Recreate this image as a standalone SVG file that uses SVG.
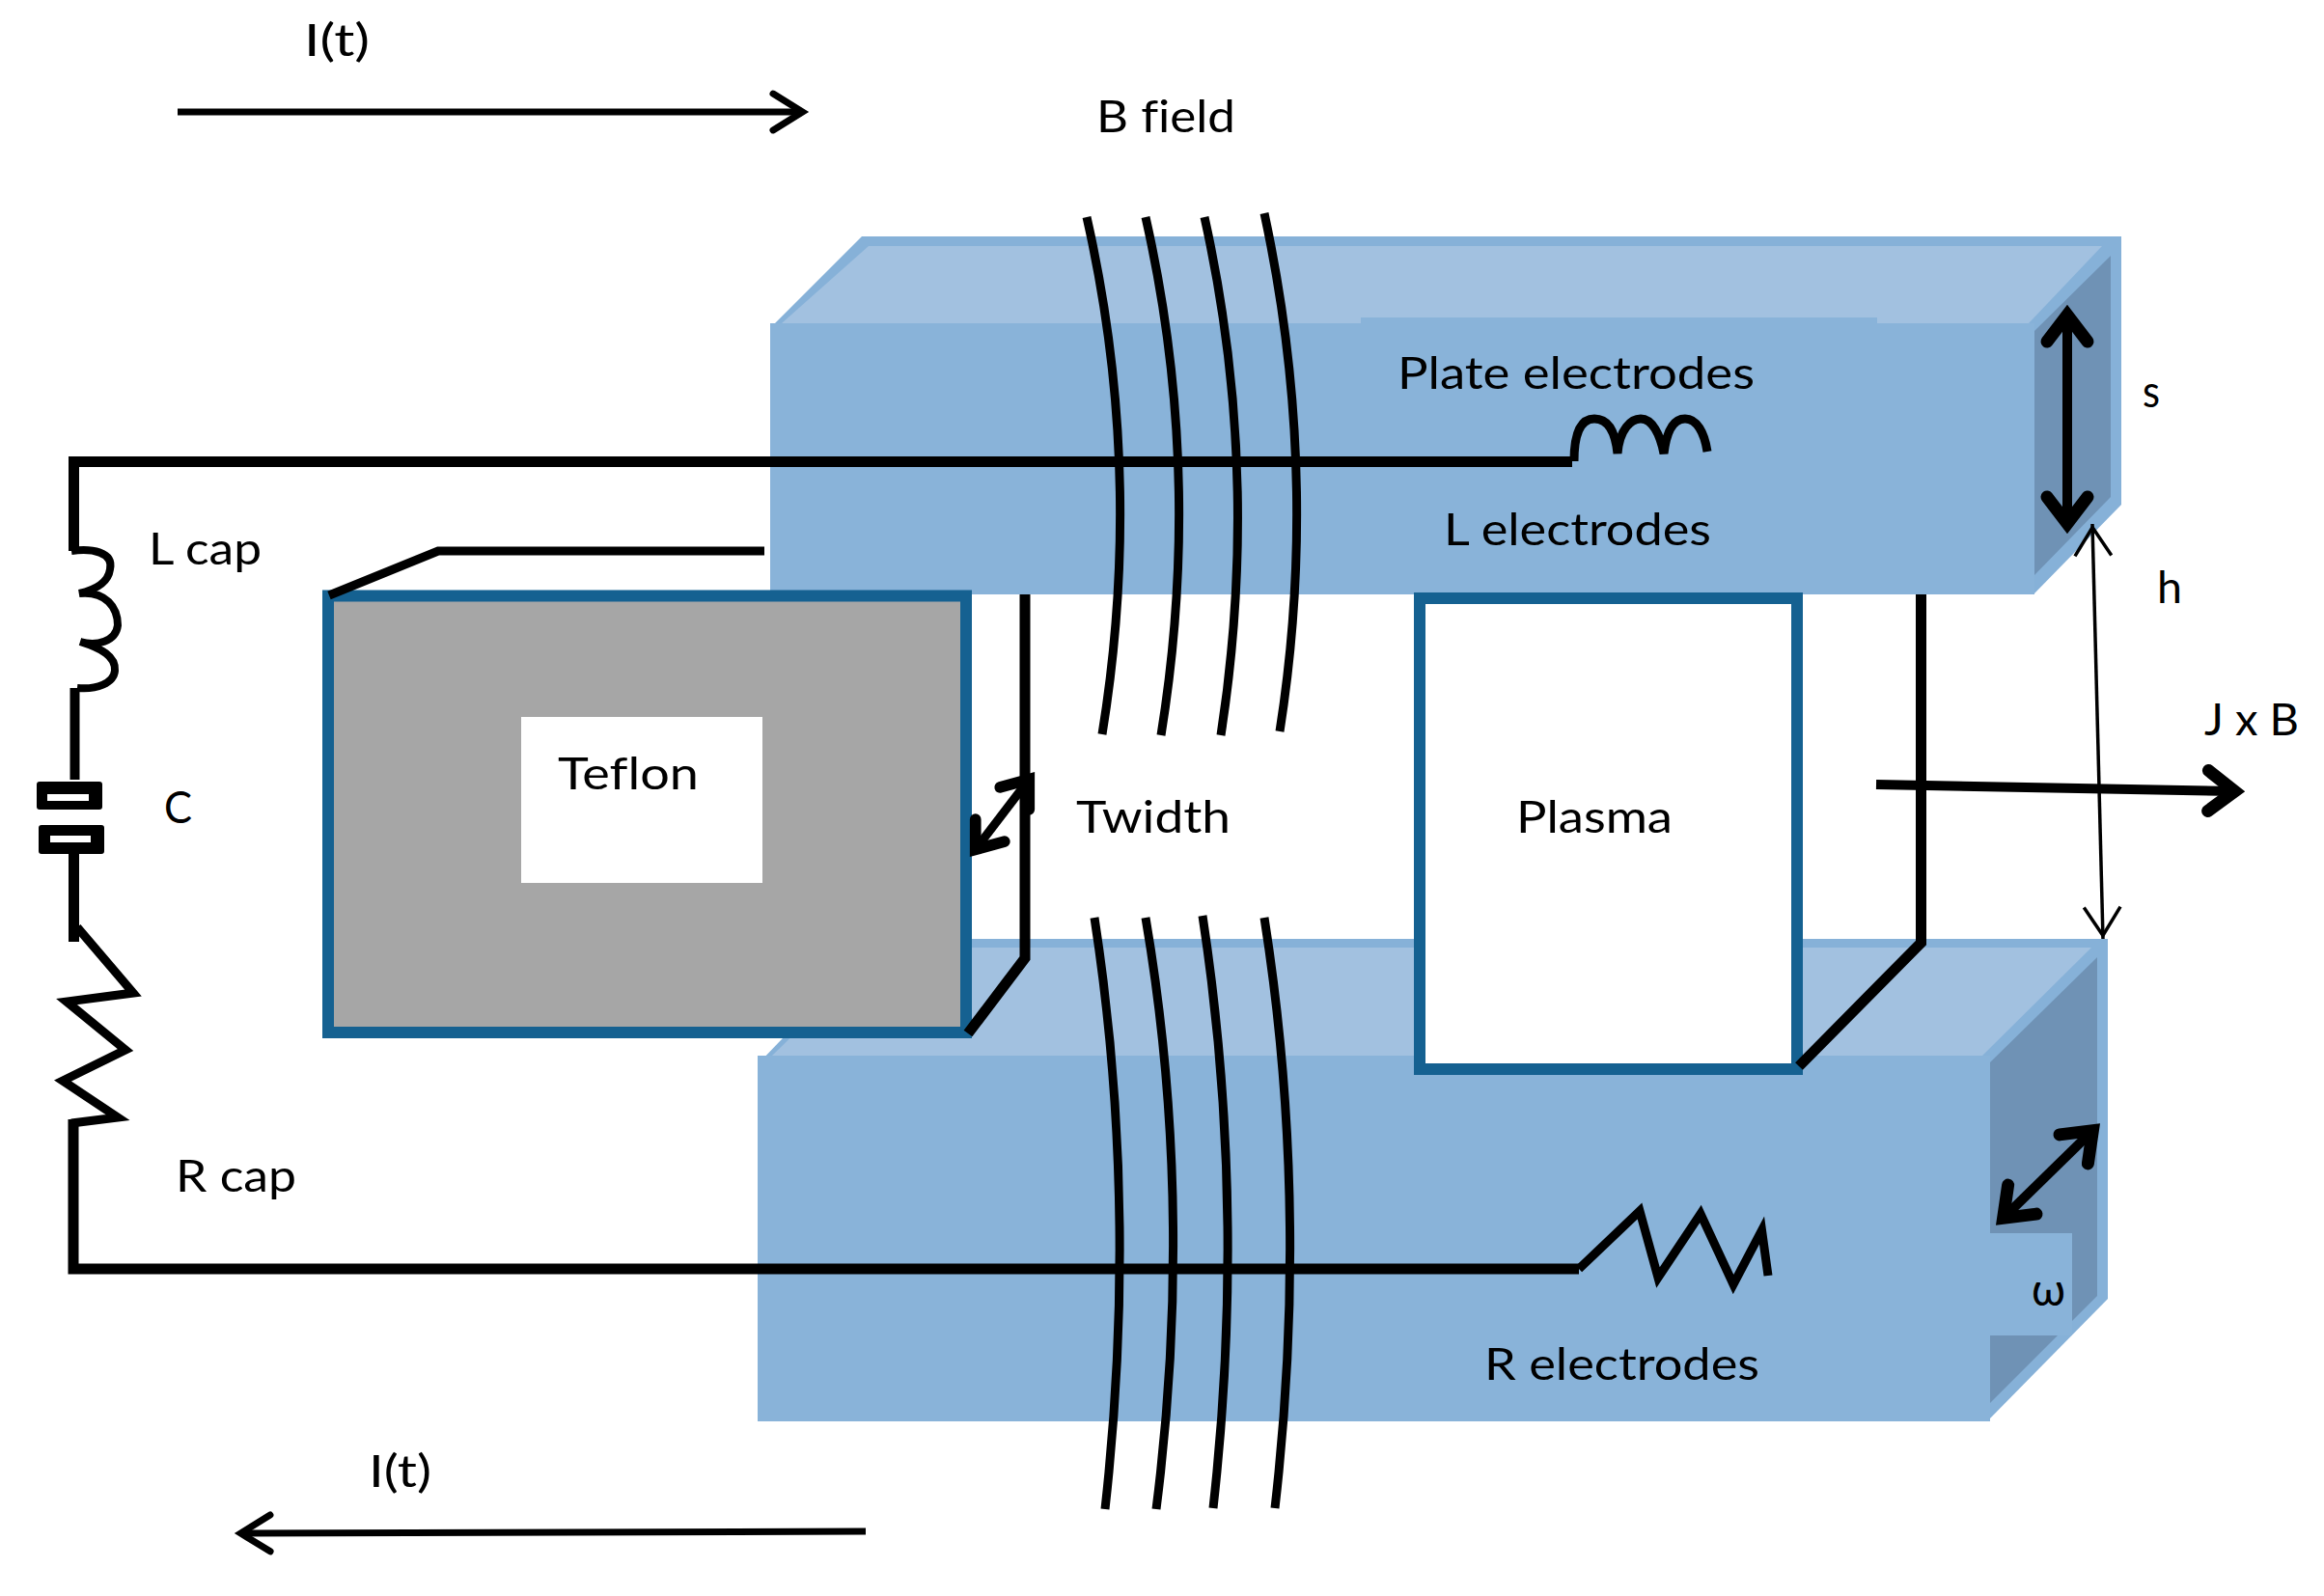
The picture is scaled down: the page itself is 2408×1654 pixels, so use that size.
<svg xmlns="http://www.w3.org/2000/svg" width="2408" height="1654" viewBox="0 0 2408 1654">
<style>
text{font-family:"Lato","Open Sans","Liberation Sans",sans-serif;font-size:46px;fill:#000;font-variant-ligatures:none}
.edge{fill:#86b1d8}.front{fill:#89b3d9}.top{fill:#a2c1e0}.side{fill:#6f92b5}
.box{stroke:#156191;stroke-width:12;stroke-linejoin:miter}
.w{fill:none;stroke:#000;stroke-linejoin:miter}
.w7{stroke-width:7}.w8{stroke-width:8}.w9{stroke-width:9}.w10{stroke-width:10}.w11{stroke-width:11}
.dbl{marker-start:url(#head);marker-end:url(#head)}
</style>
<defs>
<marker id="head" markerUnits="strokeWidth" markerWidth="8" markerHeight="8" refX="0" refY="0" orient="auto-start-reverse" overflow="visible"><path d="M-2.7,-2.1 L.05,0 L-2.7,2.1" fill="none" stroke="#000" stroke-width="1.3" stroke-linecap="round"/><path d="M-1.6,-.8 L.5,0 L-1.6,.8Z" fill="#000"/></marker>
<marker id="headI" markerUnits="strokeWidth" markerWidth="8" markerHeight="8" refX="0" refY="0" orient="auto" overflow="visible"><path d="M-4,-2.7 L.36,0 L-4,2.7" fill="none" stroke="#000" stroke-width="1" stroke-linecap="round"/></marker>
<marker id="headT" markerUnits="strokeWidth" markerWidth="12" markerHeight="12" refX="0" refY="0" orient="auto-start-reverse" overflow="visible"><path d="M-9.4,-5.4 L-1,0 L-9.4,5.4" fill="none" stroke="#000" stroke-width="1"/></marker>
</defs>
<rect width="2408" height="1654" fill="#fff"/>

<g id="lower-electrode">
<polygon class="edge" points="785,1103 910,973 2184,973 2184,1346 2059,1473 785,1473"/>
<polygon class="top" points="800,1094 915,982 2167,982 2054,1094"/>
<rect class="front" x="785" y="1094" width="1277" height="379"/>
<polygon class="side" points="2062,1101 2173,992 2173,1343 2062,1454"/>
<rect class="front" x="2062" y="1278" width="85" height="106"/>
<text x="2105" y="1353" textLength="35" lengthAdjust="spacingAndGlyphs">ω</text>
<text x="1538" y="1430" textLength="285" lengthAdjust="spacingAndGlyphs">R electrodes</text>
</g>

<g id="upper-electrode">
<polygon class="edge" points="798,340 893,245 2198,245 2198,523 2107,616 798,616"/>
<polygon class="top" points="810,335 900,255 2178,255 2102,335"/>
<rect class="front" x="798" y="335" width="1310" height="281"/>
<rect class="front" x="1410" y="329" width="535" height="6"/>
<polygon class="side" points="2108,343 2187,265 2187,515 2108,596"/>
<text x="1448" y="403" textLength="370" lengthAdjust="spacingAndGlyphs">Plate electrodes</text>
<text x="1496" y="565" textLength="277" lengthAdjust="spacingAndGlyphs">L electrodes</text>
</g>

<g id="teflon">
<rect class="box" x="340" y="617.5" width="661" height="452.5" fill="#a6a6a6"/>
<rect x="540" y="743" width="250" height="172" fill="#fff"/>
<text x="578" y="818" textLength="146" lengthAdjust="spacingAndGlyphs">Teflon</text>
</g>

<g id="plasma">
<rect class="box" x="1471" y="620" width="391" height="488" fill="#fff"/>
<text x="1571" y="863" textLength="162" lengthAdjust="spacingAndGlyphs">Plasma</text>
</g>

<g id="connectors">
<path class="w w9" d="M341,617 L454,571 L792,571"/>
<path class="w w11" d="M1062,616 L1062,993 L1003,1071"/>
<path class="w w11" d="M1990.5,616 L1990.5,977 L1864,1105"/>

<path class="w w11" d="M1629,478.5 L76.5,478.5 L76.5,571"/>
<path class="w w8" d="M74,571 C95,568 118,572 114,590 C112,605 95,612 82,615 C110,612 122,630 122,648 C120,665 100,670 83,665 C105,672 120,680 119,695 C118,708 100,715 80,713"/>
<path class="w w10" d="M77.5,713 L77.5,808"/>
<path class="w w11" d="M76.5,885 L76.5,976"/>
<path class="w w9" d="M80,961 L138,1029 L69,1038 L130,1088 L65,1120 L122,1158 L74,1164"/>
<path class="w w11" d="M76,1160 L76,1315 L1636,1315"/>
<path class="w w9" d="M1631,478 C1631,445 1640,434 1652,434 C1668,434 1674,450 1676,470 C1678,445 1690,434 1700,434 C1712,434 1720,450 1724,470 C1727,445 1735,434 1746,434 C1758,434 1766,448 1769,468"/>
<path class="w w9" d="M1636,1315 L1699,1255 L1718,1324 L1762,1258 L1796,1331 L1825.5,1275 L1832,1322"/>

<path class="w w9" d="M1126,225 Q1186,490 1142,761"/>
<path class="w w9" d="M1187,225 Q1247,490 1203,762"/>
<path class="w w9" d="M1248,225 Q1307,490 1265,762"/>
<path class="w w9" d="M1310,221 Q1368,490 1326,758"/>
<path class="w w9" d="M1134,951 Q1180,1250 1145,1564"/>
<path class="w w9" d="M1187,951 Q1238,1250 1198,1564"/>
<path class="w w9" d="M1246,949 Q1292,1250 1257,1563"/>
<path class="w w9" d="M1310,951 Q1357,1250 1321,1563"/>

<path class="w w7" d="M184,116 L829,116" marker-end="url(#headI)"/>
<path class="w w7" d="M897,1587 L252,1589" marker-end="url(#headI)"/>
<path class="w w10 dbl" d="M2142,327 L2142,542"/>
<path class="w w9 dbl" d="M1066,808 L1011,880"/>
<path class="w w10 dbl" d="M2168,1172 L2076,1262"/>
<path class="w w10" d="M1944,813 L2315,820" marker-end="url(#head)"/>
<path class="w" stroke-width="3.5" d="M2168,543 L2179,973" marker-start="url(#headT)" marker-end="url(#headT)"/>
</g>

<g id="capacitor">
<rect x="38" y="810" width="68" height="29" rx="3" fill="#000"/><rect x="49" y="823" width="43" height="7" fill="#fff"/>
<rect x="40" y="855" width="68" height="30" rx="3" fill="#000"/><rect x="52" y="866" width="42" height="7" fill="#fff"/>
</g>

<g id="labels">
<text x="315" y="58" textLength="68" lengthAdjust="spacingAndGlyphs">I(t)</text>
<text x="1136" y="137" textLength="144" lengthAdjust="spacingAndGlyphs">B field</text>
<text x="154" y="585" textLength="117" lengthAdjust="spacingAndGlyphs">L cap</text>
<text x="170" y="853" textLength="29" lengthAdjust="spacingAndGlyphs">C</text>
<text x="2220" y="422" textLength="18" lengthAdjust="spacingAndGlyphs">s</text>
<text x="2235" y="625" textLength="26" lengthAdjust="spacingAndGlyphs">h</text>
<text x="1115" y="863" textLength="160" lengthAdjust="spacingAndGlyphs">Twidth</text>
<text x="2284" y="762" textLength="98" lengthAdjust="spacingAndGlyphs">J x B</text>
<text x="182" y="1235" textLength="125" lengthAdjust="spacingAndGlyphs">R cap</text>
<text x="382" y="1541" textLength="65" lengthAdjust="spacingAndGlyphs">I(t)</text>
</g>
</svg>
